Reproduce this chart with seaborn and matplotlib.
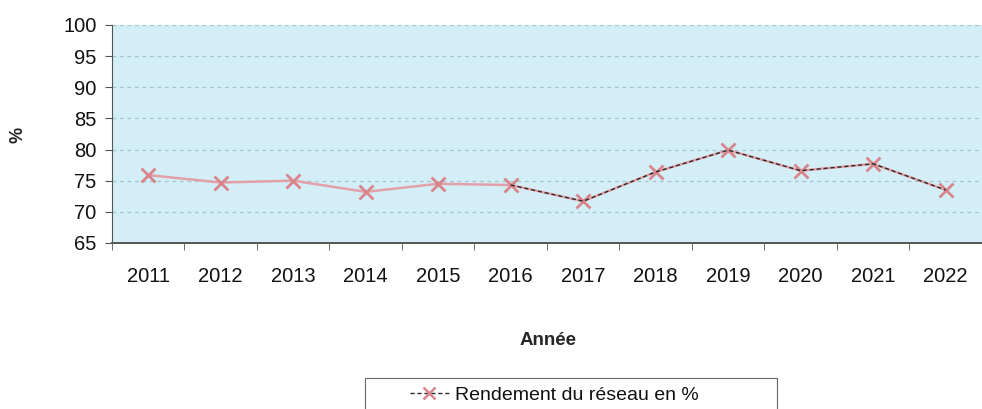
import pandas as pd
import matplotlib
matplotlib.use("Agg")
import matplotlib.pyplot as plt
import seaborn as sns
from matplotlib.lines import Line2D
from matplotlib.patches import Rectangle

sns.set_style("ticks")
plt.rcParams['font.family'] = ['Liberation Sans', 'DejaVu Sans']

annees = [2011, 2012, 2013, 2014, 2015, 2016, 2017, 2018, 2019, 2020, 2021, 2022]
rendement = [75.9, 74.7, 75.0, 73.2, 74.5, 74.3, 71.7, 76.4, 79.9, 76.6, 77.7, 73.5]

df = pd.DataFrame({'Année': annees, 'Rendement': rendement})

fig = plt.figure(figsize=(9.82, 4.09), dpi=100)
ax = fig.add_axes([0.114, 0.406, 0.886, 0.533])
ax.set_facecolor('#d4eef7')

# pink line with x markers, thin dark dashes over the second half (as in the scan)
sns.lineplot(data=df, x='Année', y='Rendement', ax=ax, color='#e3a0a6',
             lw=1.8, marker='x', markersize=10, markeredgewidth=2,
             markeredgecolor='#d9858c', zorder=3)
sns.lineplot(data=df[df['Année'] >= 2016], x='Année', y='Rendement', ax=ax,
             color='#2a2a2a', lw=1.0, linestyle=(0, (3, 2)), zorder=4)

ax.set_ylim(65, 100)
ax.set_yticks(range(65, 101, 5))
ax.set_xlim(2010.5, 2022.5)
ax.set_xticks(annees)
ax.set_xticks([a - 0.5 for a in annees] + [2022.5], minor=True)
ax.tick_params(axis='x', which='major', length=0, pad=17, labelsize=14.5, labelcolor='#111111')
ax.tick_params(axis='x', which='minor', length=5, color='#555555')
ax.tick_params(axis='y', length=5, color='#555555', labelsize=14.5, pad=6, labelcolor='#111111')

for y in range(70, 101, 5):
    ax.axhline(y, color='#a3c3d1', lw=0.9, ls=(0, (3, 3)), zorder=1)

sns.despine(ax=ax)
ax.spines['left'].set_color('#555555')
ax.spines['bottom'].set_color('#555555')
ax.spines['bottom'].set_linewidth(1.4)

ax.set_xlabel('')
ax.set_ylabel('')
fig.text(0.558, 0.168, 'Année', ha='center', va='center', fontsize=13.5, fontweight='bold')
fig.text(0.018, 0.67, '%', ha='center', va='center', fontsize=13, fontweight='bold', rotation=90)

# legend box (wider than its content, as in the original)
fig.patches.append(Rectangle((365 / 982, -0.05), 412 / 982, 0.05 + 31 / 409,
                             transform=fig.transFigure, fill=False,
                             edgecolor='#666666', lw=0.8))
h1 = Line2D([], [], color='#2a2a2a', lw=1.0, ls=(0, (3, 2)))
h2 = Line2D([], [], color='#d9858c', lw=0, marker='x', markersize=9, markeredgewidth=1.8)
leg = fig.legend([(h1, h2)], ['Rendement du réseau en %'], loc='center left',
                 bbox_to_anchor=(410 / 982, 1 - 395 / 409), borderaxespad=0,
                 fontsize=14, frameon=False, handlelength=2.0,
                 borderpad=0, handletextpad=0.3)
for t in leg.get_texts():
    t.set_color('#111111')

fig.savefig('out.png', dpi=100)
